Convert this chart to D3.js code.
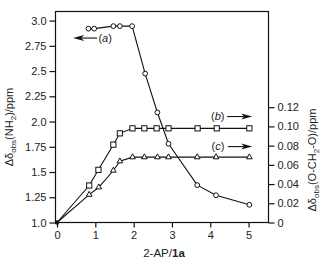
<!DOCTYPE html>
<html><head><meta charset="utf-8">
<script src="https://cdn.jsdelivr.net/npm/d3@7"></script>
<style>
body{margin:0;background:#fff;}
svg text{font-family:"Liberation Sans",Arial,sans-serif;fill:#222;}
</style></head>
<body><svg id="c" width="322" height="271"></svg>
<script>
// Data
const xTicks = [0, 1, 2, 3, 4, 5];
const leftTicks = [1.0, 1.25, 1.5, 1.75, 2.0, 2.25, 2.5, 2.75, 3.0];
const leftTickLabels = ["1.0", "1.25", "1.5", "1.75", "2.0", "2.25", "2.5", "2.75", "3.0"];
const rightTicks = [0, 0.02, 0.04, 0.06, 0.08, 0.10, 0.12];
const rightTickLabels = ["0", "0.02", "0.04", "0.06", "0.08", "0.10", "0.12"];

// (a) NH2 shift, left axis
const aX = [0.82, 0.97, 1.47, 1.64, 1.96, 2.30, 2.62, 2.91, 3.66, 4.15, 5.02];
const aY = [2.92, 2.92, 2.945, 2.945, 2.945, 2.475, 2.09, 1.78, 1.37, 1.27, 1.175];
// (b) squares, right axis
const bX = [0, 0.84, 1.08, 1.47, 1.64, 1.97, 2.28, 2.60, 2.91, 3.67, 4.17, 5.02];
const bY = [0, 0.0385, 0.0548, 0.081, 0.0928, 0.098, 0.098, 0.098, 0.098, 0.098, 0.098, 0.098];
// (c) triangles, right axis
const cX = [0, 0.84, 1.09, 1.47, 1.64, 1.97, 2.28, 2.62, 2.91, 3.66, 4.15, 5.02];
const cY = [0, 0.029, 0.0367, 0.0541, 0.0638, 0.068, 0.068, 0.068, 0.068, 0.068, 0.068, 0.068];

const svg = d3.select("#c");
const L = 55.5, R = 268.5, T = 11.5, B = 222.5;
const x = d3.scaleLinear().domain([-0.04, 5.52]).range([L, R]);
const yL = d3.scaleLinear().domain([1, 3.09]).range([B, T]);
const yR = d3.scaleLinear().domain([0, 0.2196]).range([B, T]);

// frame
svg.append("rect").attr("x", L).attr("y", T).attr("width", R - L).attr("height", B - T)
  .attr("fill", "none").attr("stroke", "#111").attr("stroke-width", 1.2);

const fs = "11px";
function styleAxis(g){
  g.select(".domain").remove();
  g.selectAll(".tick line").attr("stroke", "#111").attr("stroke-width", 1.2);
  g.selectAll(".tick text").style("font-size", fs).attr("fill", "#222");
}
svg.append("g").attr("transform", `translate(0,${B})`)
  .call(d3.axisBottom(x).tickValues(xTicks).tickFormat(d3.format("d")).tickSize(5).tickPadding(4))
  .call(styleAxis);
svg.append("g").attr("transform", `translate(${L},0)`)
  .call(d3.axisLeft(yL).tickValues(leftTicks).tickFormat((d, i) => leftTickLabels[i]).tickSize(6).tickPadding(3))
  .call(styleAxis);
svg.append("g").attr("transform", `translate(${R},0)`)
  .call(d3.axisRight(yR).tickValues(rightTicks).tickFormat((d, i) => rightTickLabels[i]).tickSize(6).tickPadding(3))
  .call(styleAxis);

// lines
function series(xs, ys, ys_scale){
  const pts = xs.map((v, i) => [x(v), ys_scale(ys[i])]);
  svg.append("path").attr("d", d3.line()(pts)).attr("fill", "none").attr("stroke", "#111").attr("stroke-width", 1.1);
  return pts;
}
const pa = series(aX, aY, yL);
const pb = series(bX, bY, yR);
const pc = series(cX, cY, yR);

svg.append("g").selectAll("circle").data(pa).join("circle")
  .attr("cx", d => d[0]).attr("cy", d => d[1]).attr("r", 2.4)
  .attr("fill", "#fff").attr("stroke", "#111").attr("stroke-width", 1);
svg.append("g").selectAll("rect").data(pb.slice(1)).join("rect")
  .attr("x", d => d[0] - 2.6).attr("y", d => d[1] - 2.6).attr("width", 5.2).attr("height", 5.2)
  .attr("fill", "#fff").attr("stroke", "#111").attr("stroke-width", 1);
svg.append("g").selectAll("path").data(pc.slice(1)).join("path")
  .attr("d", d3.symbol(d3.symbolTriangle, 14))
  .attr("transform", d => `translate(${d[0]},${d[1]})`)
  .attr("fill", "#fff").attr("stroke", "#111").attr("stroke-width", 1);
// origin
svg.append("circle").attr("cx", x(0)).attr("cy", yR(0)).attr("r", 2.2).attr("fill", "#111");

// annotations (data units)
function arrow(x0, x1, yv, ys){
  const X0 = x(x0), X1 = x(x1), Y = ys(yv);
  const dir = Math.sign(X1 - X0);
  svg.append("line").attr("x1", X0).attr("x2", X1 - dir * 6).attr("y1", Y).attr("y2", Y)
    .attr("stroke", "#111").attr("stroke-width", 1.1);
  svg.append("path").attr("d", `M${X1},${Y} L${X1 - dir * 11},${Y - 3} L${X1 - dir * 8},${Y} L${X1 - dir * 11},${Y + 3} Z`)
    .attr("fill", "#111");
}
function label(xv, yv, ys, letter, anchor){
  const t = svg.append("text").attr("x", x(xv)).attr("y", ys(yv)).attr("dy", "0.35em")
    .attr("text-anchor", anchor).style("font-size", "11px");
  t.append("tspan").text("(");
  t.append("tspan").style("font-style", "italic").text(letter);
  t.append("tspan").text(")");
}
arrow(1.045, 0.42, 2.827, yL); label(1.08, 2.827, yL, "a", "start");
arrow(4.44, 5.095, 0.1103, yR); label(4.37, 0.1103, yR, "b", "end");
arrow(4.46, 5.095, 0.079, yR); label(4.37, 0.079, yR, "c", "end");

// axis titles
const xt = svg.append("text").attr("x", (L + R) / 2 + 2).attr("y", 257).attr("text-anchor", "middle").style("font-size", "11.5px");
xt.append("tspan").text("2-AP/");
xt.append("tspan").style("font-weight", "bold").text("1a");

function ylabel(cx, cy, parts){
  const t = svg.append("text").attr("transform", `translate(${cx},${cy}) rotate(-90)`)
    .attr("text-anchor", "middle").style("font-size", "11px");
  parts.forEach(p => {
    const s = t.append("tspan").text(p[0]);
    if (p[1] === "sub") s.style("font-size", "8px").attr("dy", "3");
    else if (p[1] === "up") s.attr("dy", "-3");
  });
}
ylabel(13, 127, [["Δδ"], ["obs", "sub"], ["(NH", "up"], ["2", "sub"], [")/ppm", "up"]]);
ylabel(316, 160, [["Δδ"], ["obs", "sub"], ["(O-CH", "up"], ["2", "sub"], ["-O)/ppm", "up"]]);
</script></body></html>
